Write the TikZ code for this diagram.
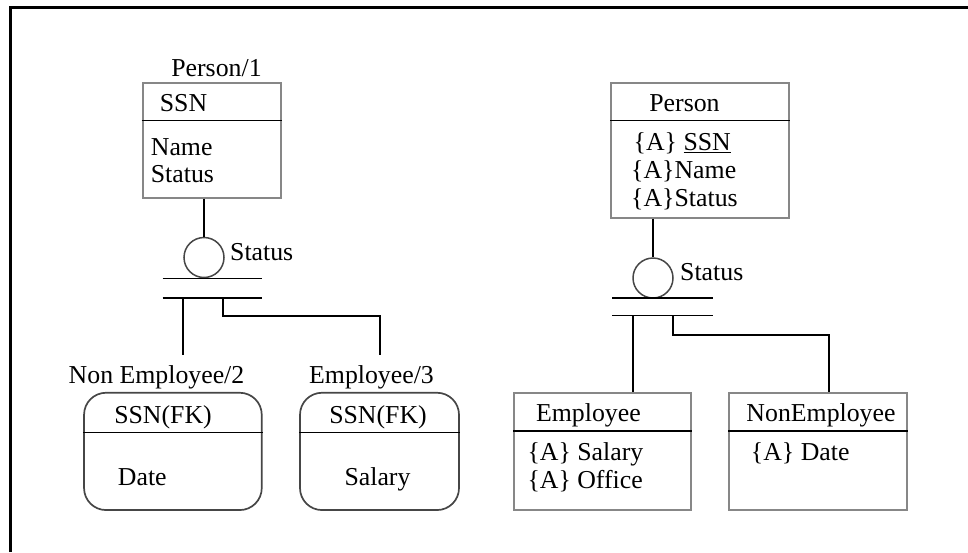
\documentclass[tikz,border=0pt]{standalone}
\usepackage{fontspec}
\setmainfont{Liberation Serif}
\newcommand\dfs{\fontsize{25.8}{30}\selectfont}
\definecolor{boxgray}{RGB}{135,135,135}
\definecolor{rgray}{RGB}{70,70,70}
\begin{document}
\begin{tikzpicture}[x=1pt,y=-1pt,
  txt/.style={inner sep=0pt, text height=17pt, text depth=0pt, font=\dfs},
  ebox/.style={draw=boxgray, line width=2pt, inner sep=0pt},
  rbox/.style={draw=rgray, line width=1.7pt, inner sep=0pt, rounded corners=22pt},
  divline/.style={line width=1.4pt, black},
  conn/.style={line width=1.7pt, black},
  gcirc/.style={circle, draw=rgray, line width=1.5pt, minimum size=40pt, inner sep=0pt},
  bar/.style={line width=1.6pt, black}]
\useasboundingbox (0,0) rectangle (968,552);
\draw[line width=3pt] (10.5,552) -- (10.5,7.5) -- (968,7.5);

% ---------- left diagram ----------
\node[txt] (p1lab) at (216.5,68) {Person/1};
\node[ebox, minimum width=138pt, minimum height=115pt] (p1) at (211.7,140.2) {};
\draw[divline] (p1.west |- 0,120.7) -- (p1.east |- 0,120.7);
\node[txt] (p1ssn) at (183.5,103) {SSN};
\node[txt, anchor=west] (p1name) at (150.7,146.7) {Name};
\node[txt, anchor=west] (p1stat) at (150.7,174) {Status};

\node[gcirc] (c1) at (204,257.5) {};
\node[txt, anchor=west] (c1lab) at (230,251.7) {Status};
\draw[conn] (p1.south -| c1.north) -- (c1.north);

\coordinate (b1l) at (162.7,278.3);
\coordinate (b1r) at (261.7,278.3);
\coordinate (b2l) at (162.7,298);
\coordinate (b2r) at (261.7,298);
\draw[bar] (b1l) -- (b1r);
\draw[bar] (b2l) -- (b2r);
\coordinate (s1) at (183.3,298);
\coordinate (s2) at (223.3,298);
\coordinate (k1) at (380,315.7);

\node[txt] (ne2lab) at (156.5,375) {Non Employee/2};
\node[txt] (e3lab) at (371.5,375) {Employee/3};
\draw[conn] (s1) -- (s1 |- 0,355);
\draw[conn] (s2) |- (k1) -- (k1 |- 0,355);

\node[rbox, minimum width=177.7pt, minimum height=117.3pt] (ne2) at (172.9,451.4) {};
\draw[divline] (ne2.west |- 0,432.7) -- (ne2.east |- 0,432.7);
\node[txt] (ne2a) at (163,415) {SSN(FK)};
\node[txt] (ne2b) at (142.3,477) {Date};

\node[rbox, minimum width=159pt, minimum height=117.3pt] (e3) at (379.5,451.4) {};
\draw[divline] (e3.west |- 0,432.7) -- (e3.east |- 0,432.7);
\node[txt] (e3a) at (378,415) {SSN(FK)};
\node[txt] (e3b) at (377.5,477) {Salary};

% ---------- right diagram ----------
\node[ebox, minimum width=177.7pt, minimum height=135pt] (p2) at (699.9,150.2) {};
\draw[divline] (p2.west |- 0,120.7) -- (p2.east |- 0,120.7);
\node[txt] (p2t) at (684.5,103) {Person};
\node[txt, anchor=west] (p2a) at (633.5,142) {\{A\} \underline{SSN}};
\node[txt, anchor=west] (p2b) at (631,170) {\{A\}Name};
\node[txt, anchor=west] (p2c) at (631,198.3) {\{A\}Status};

\node[gcirc] (c2) at (653,278) {};
\node[txt, anchor=west] (c2lab) at (680,271.7) {Status};
\draw[conn] (p2.south -| c2.north) -- (c2.north);

\coordinate (b3l) at (612.3,298);
\coordinate (b3r) at (713.3,298);
\coordinate (b4l) at (612.3,315.3);
\coordinate (b4r) at (713.3,315.3);
\draw[bar] (b3l) -- (b3r);
\draw[bar] (b4l) -- (b4r);
\coordinate (s3) at (632.7,315.3);
\coordinate (s4) at (672.7,315.3);
\coordinate (k2) at (829,335);

\node[ebox, minimum width=176.7pt, minimum height=116.7pt] (emp) at (602.4,451.7) {};
\draw[divline] (emp.west |- 0,431) -- (emp.east |- 0,431);
\node[txt] (empt) at (588.4,413.3) {Employee};
\node[txt, anchor=west] (empa) at (527.3,451.7) {\{A\} Salary};
\node[txt, anchor=west] (empb) at (527.3,480) {\{A\} Office};

\node[ebox, minimum width=177.4pt, minimum height=116.7pt] (nemp) at (818,451.7) {};
\draw[divline] (nemp.west |- 0,431) -- (nemp.east |- 0,431);
\node[txt] (nempt) at (821,413) {NonEmployee};
\node[txt, anchor=west] (nempa) at (750.7,452) {\{A\} Date};

\draw[conn] (s3) -- (s3 |- emp.north);
\draw[conn] (s4) |- (k2) -- (k2 |- nemp.north);
\end{tikzpicture}
\end{document}
